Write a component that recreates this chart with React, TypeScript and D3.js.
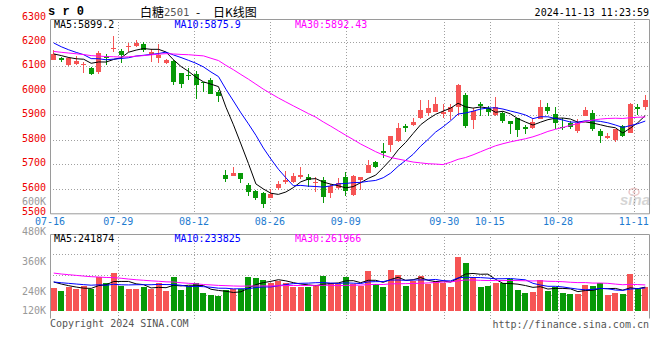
import React from "react";
import * as d3 from "d3";

// ---------- data ----------
const dates = [
  "07-16","07-17","07-18","07-19","07-22","07-23","07-24","07-25","07-26","07-29","07-30","07-31",
  "08-01","08-02","08-05","08-06","08-07","08-08","08-09","08-12","08-13","08-14","08-15","08-16",
  "08-19","08-20","08-21","08-22","08-23","08-26","08-27","08-28","08-29","08-30",
  "09-02","09-03","09-04","09-05","09-06","09-09","09-10","09-11","09-12","09-13","09-18","09-19",
  "09-20","09-23","09-24","09-25","09-26","09-27","09-30",
  "10-08","10-09","10-10","10-11","10-14","10-15","10-16","10-17","10-18","10-21","10-22","10-23",
  "10-24","10-25","10-28","10-29","10-30","10-31",
  "11-01","11-04","11-05","11-06","11-07","11-08","11-11","11-12","11-13",
];
const opens = [
  6128,6136,6105,6112,6107,6092,6077,6142,6170,6165,6178,6182,6192,6150,6134,6115,6124,6072,6065,6068,
  6036,6043,5996,5655,5654,5666,5614,5593,5583,5561,5604,5626,5627,5649,5650,5623,5635,5581,5604,5650,
  5574,5637,5664,5709,5753,5780,5796,5856,5861,5888,5908,5914,5904,5914,5934,5985,5881,5947,5931,5901,
  5911,5877,5888,5853,5847,5887,5935,5904,5853,5869,5837,5897,5911,5837,5808,5799,5857,5830,5935,5935,
];
const highs = [
  6168,6138,6140,6142,6118,6099,6165,6149,6226,6173,6196,6208,6200,6173,6193,6131,6128,6072,6092,6081,
  6038,6051,6003,5676,5691,5666,5624,5596,5589,5599,5634,5673,5663,5689,5660,5648,5650,5620,5644,5667,
  5657,5650,5717,5714,5787,5815,5869,5865,5888,5962,5962,5977,5947,5946,6030,5990,5931,5955,5938,5976,
  5914,5877,5888,5859,5884,5962,5949,5935,5891,5877,5887,5935,5924,5843,5830,5846,5859,5949,5945,5982,
];
const lows = [
  6125,6118,6103,6105,6072,6065,6069,6104,6161,6114,6158,6180,6158,6118,6115,6109,6026,6012,6046,5965,
  5996,5988,5955,5626,5653,5622,5572,5553,5520,5561,5595,5619,5622,5639,5607,5588,5543,5563,5600,5571,
  5571,5596,5664,5686,5725,5751,5790,5833,5858,5885,5899,5914,5889,5881,5897,5850,5843,5897,5897,5897,
  5870,5823,5812,5826,5843,5887,5904,5846,5841,5843,5827,5897,5837,5789,5805,5792,5812,5827,5901,5924,
];
const closes = [
  6151,6126,6136,6124,6110,6069,6153,6134,6177,6145,6182,6196,6166,6161,6145,6127,6036,6030,6061,6026,
  6033,5988,5980,5641,5666,5642,5589,5562,5538,5579,5618,5638,5652,5656,5635,5627,5567,5611,5623,5592,
  5652,5648,5698,5690,5745,5815,5848,5850,5873,5923,5930,5946,5915,5934,6023,5857,5920,5938,5914,5935,
  5877,5866,5841,5846,5873,5935,5918,5870,5850,5853,5870,5924,5846,5816,5816,5846,5816,5945,5928,5961,
];
const volumes = [
  253000,240000,256000,248000,260000,248000,296000,273000,313000,261000,248000,248000,257000,247000,273000,
  241000,296000,245000,260000,273000,233000,224000,221000,244000,248000,247000,296000,293000,284000,273000,
  280000,273000,257000,257000,255000,264000,301000,273000,268000,297000,268000,260000,321000,268000,257000,
  324000,304000,260000,280000,301000,268000,279000,273000,257000,377000,353000,291000,257000,260000,273000,
  271000,288000,244000,233000,237000,284000,241000,257000,233000,228000,228000,264000,260000,271000,224000,
  233000,228000,308000,252000,257000,
];
// sessions before 07-16 (estimated from where the moving averages start)
const priorCloses = [
  6230,6225,6215,6205,6200,6205,6200,6195,6189,6150,6120,6090,6070,6060,6067,6075,6085,6095,6100,6101,
  6280,6262,6230,6204,6228,6160,6175,6150,6120,
];
const priorVolumes = [
  350000,340000,330000,345000,320000,335000,330000,325000,340000,345000,
  330000,320000,315000,325000,310000,320000,330000,325000,330000,325000,
  270000,280000,275000,285000,270000,280000,290000,275000,282000,
];
const priceTicks = [6300, 6200, 6100, 6000, 5900, 5800, 5700, 5600, 5500];
const volTicks = [600000, 480000, 360000, 240000, 120000];
const dateTicks = ["07-16", "07-29", "08-12", "08-26", "09-09", "09-30", "10-15", "10-28", "11-11"];
const maPeriods = [5, 10, 30];
const maColors = ["#000000", "#0000ff", "#ff00ff"];
const priceMAValues = ["5899.2", "5875.9", "5892.43"];
const volMAValues = ["241874", "233825", "261966"];
const symbolText = "s r 0";
const titleName = "白糖";
const titleCode = "2501";
const titleDash = "-";
const titleRest = "日K线图";
const timestamp = "2024-11-13 11:23:59";
const copyright = "Copyright 2024 SINA.COM";
const siteUrl = "http://finance.sina.com.cn";

// ---------- layout ----------
const W = 660, H = 360;
const L = 50, R = 649;
const MT = 19, MB = 213.3;
const VT = 234, VB = 315, VBASE = 311;
const RED = "#f65454";
const GREEN = "#079907";
const MONO = "'DejaVu Sans Mono', 'Liberation Mono', monospace";
const CJK = "'Noto Sans CJK SC', sans-serif";
const GRID = "#a0a0a0";
const FRAME = "#9a9a9a";

function movingAvg(prior: number[], vals: number[], n: number) {
  const all = prior.concat(vals);
  const off = prior.length;
  return vals.map((_, i) => d3.mean(all.slice(off + i - n + 1, off + i + 1)) as number);
}

export default function App() {
  const N = closes.length;
  const idx = d3.range(N);
  const xBand = d3.scaleBand<number>().domain(idx).range([L, R]).paddingInner(0.28).paddingOuter(0.14);
  const cx = (i: number) => (xBand(i) as number) + xBand.bandwidth() / 2;
  const xTick = d3.scalePoint<number>().domain(idx).range([L, R]);
  const yP = d3.scaleLinear().domain([5500, 6300]).range([MB, 17.5]);
  const yV = d3.scaleLinear().domain([240000, 360000]).range([291, 261]);

  const priceMAs = maPeriods.map((p) => movingAvg(priorCloses, closes, p));
  const volMAs = maPeriods.map((p) => movingAvg(priorVolumes, volumes, p));
  const lineP = d3.line<number>().x((_, i) => cx(i)).y((d) => yP(d));
  const lineV = d3.line<number>().x((_, i) => cx(i)).y((d) => yV(d));

  const tickIdx = dateTicks.map((d) => dates.indexOf(d));
  const volGridYs = [1, 2, 3].map((k) => Math.round(VT + ((VB - VT) * k) / 4) + 0.5);

  return (
    <svg width={W} height={H} style={{ position: "absolute", left: 0, top: 0, background: "#fff" }}
      fontFamily={MONO}>
      <defs>
        <clipPath id="clipMain"><rect x={L} y={MT} width={R - L} height={MB - MT} /></clipPath>
        <clipPath id="clipVol"><rect x={L} y={VT} width={R - L} height={VB - VT} /></clipPath>
      </defs>
      <rect x={0} y={0} width={W} height={H} fill="#fff" />

      {/* header */}
      <text x={48} y={11.5} fontSize={12} fontWeight="bold" dominantBaseline="central" fill="#000"
        fontFamily="'Liberation Mono', monospace">{symbolText}</text>
      <text x={140} y={11} fontSize={12} dominantBaseline="central" fontFamily={CJK} fill="#000">{titleName}</text>
      <text x={164} y={11.5} fontSize={10.5} dominantBaseline="central" fill="#555">{titleCode}</text>
      <text x={198} y={11} fontSize={12} textAnchor="middle" dominantBaseline="central" fontFamily={CJK} fill="#000">{titleDash}</text>
      <text x={213} y={11} fontSize={12} dominantBaseline="central" fontFamily={CJK} fill="#000">{titleRest}</text>
      <text x={R} y={12} fontSize={10} textAnchor="end" dominantBaseline="central" fill="#000">{timestamp}</text>

      {/* main grid */}
      {priceTicks.filter((t) => t > 5500 && t < 6300).map((t) => (
        <line key={"hg" + t} x1={L} x2={R} y1={Math.round(yP(t)) + 0.5} y2={Math.round(yP(t)) + 0.5}
          stroke={GRID} strokeDasharray="1,2" />
      ))}
      {tickIdx.filter((i) => i > 0).map((i) => (
        <line key={"vg" + i} x1={Math.round(xTick(i) as number) + 0.5} x2={Math.round(xTick(i) as number) + 0.5}
          y1={MT} y2={MB} stroke={GRID} strokeDasharray="1,2" />
      ))}
      {/* main frame */}
      <path d={`M${L + 0.5},${MB + 0.5}V${MT + 0.5}H${R + 0.5}V${MB + 0.5}H${L + 0.5}`} fill="none" stroke={FRAME} />

      {/* price labels */}
      {priceTicks.map((t) => (
        <text key={"pl" + t} x={46} y={yP(t) - 1.5} fontSize={10} textAnchor="end" dominantBaseline="central" fill="#ee0000">{t}</text>
      ))}

      {/* candles */}
      <g clipPath="url(#clipMain)" shapeRendering="crispEdges">
        {idx.map((i) => {
          const up = closes[i] >= opens[i];
          const col = up ? RED : GREEN;
          const x0 = Math.round(cx(i) - 2.5);
          const top = yP(Math.max(opens[i], closes[i]));
          const bot = yP(Math.min(opens[i], closes[i]));
          return (
            <g key={"c" + i} fill={col}>
              <rect x={x0 + 2} y={Math.round(yP(highs[i]))} width={1}
                height={Math.max(1, Math.round(yP(lows[i])) - Math.round(yP(highs[i])))} />
              <rect x={x0} y={Math.round(top)} width={5} height={Math.max(1, Math.round(bot) - Math.round(top))} />
            </g>
          );
        })}
      </g>
      <g clipPath="url(#clipMain)">
        {priceMAs.map((s, k) => (
          <path key={"pma" + k} d={lineP(s) as string} fill="none" stroke={maColors[k]} strokeWidth={1} />
        ))}
      </g>

      {/* main legend */}
      {priceMAValues.map((v, k) => (
        <text key={"pml" + k} x={54 + k * 120.5} y={24} fontSize={10} dominantBaseline="central" fill={maColors[k]}>
          {`MA${maPeriods[k]}:${v}`}
        </text>
      ))}

      {/* sina watermark */}
      <g opacity={0.35}>
        <ellipse cx={634} cy={192} rx={5} ry={3.5} fill="none" stroke="#c86464" strokeWidth={1.5} />
        <circle cx={634} cy={192} r={1.5} fill="#c86464" />
        <text x={620} y={205} fontSize={15} fontStyle="italic" fontWeight="bold" fill="#888"
          fontFamily="'Liberation Sans', sans-serif">sina</text>
      </g>

      {/* date labels */}
      {tickIdx.map((i, k) => (
        <text key={"dl" + k} x={xTick(i) as number} y={221.3} fontSize={10} textAnchor="middle" dominantBaseline="central" fill="#1e7bd0">
          {dateTicks[k]}
        </text>
      ))}

      {/* volume panel grid */}
      {volGridYs.map((y, k) => (
        <line key={"vhg" + k} x1={L} x2={R} y1={y} y2={y} stroke={GRID} strokeDasharray="1,2" />
      ))}
      {tickIdx.filter((i) => i > 0).map((i) => (
        <line key={"vvg" + i} x1={Math.round(xTick(i) as number) + 0.5} x2={Math.round(xTick(i) as number) + 0.5}
          y1={VT} y2={VB + 4} stroke={GRID} strokeDasharray="1,2" />
      ))}
      <path d={`M${L + 0.5},${VB + 3.5}V${VT + 0.5}H${R + 0.5}V${VB + 3.5}`} fill="none" stroke={FRAME} />

      {/* volume labels */}
      {volTicks.map((t) => (
        <text key={"vl" + t} x={46} y={Math.min(yV(t) + 0.5, 310)} fontSize={10} textAnchor="end" dominantBaseline="central" fill="#999">
          {`${t / 1000}K`}
        </text>
      ))}

      {/* volume bars */}
      <g clipPath="url(#clipVol)" shapeRendering="crispEdges">
        {idx.map((i) => {
          const up = closes[i] >= opens[i];
          const y = Math.round(yV(volumes[i]));
          return (
            <rect key={"v" + i} x={Math.round(cx(i) - 3)} y={y} width={6} height={VBASE - y} fill={up ? RED : GREEN} />
          );
        })}
      </g>
      <g clipPath="url(#clipVol)">
        {volMAs.map((s, k) => (
          <path key={"vma" + k} d={lineV(s) as string} fill="none" stroke={maColors[k]} strokeWidth={1} />
        ))}
      </g>

      {/* volume legend */}
      {volMAValues.map((v, k) => (
        <text key={"vml" + k} x={54 + k * 120.5} y={238.5} fontSize={10} dominantBaseline="central" fill={maColors[k]}>
          {`MA${maPeriods[k]}:${v}`}
        </text>
      ))}

      {/* footer */}
      <text x={L} y={323.5} fontSize={10} dominantBaseline="central" fill="#555">{copyright}</text>
      <text x={R} y={324} fontSize={10} textAnchor="end" dominantBaseline="central" fill="#555">{siteUrl}</text>
    </svg>
  );
}
